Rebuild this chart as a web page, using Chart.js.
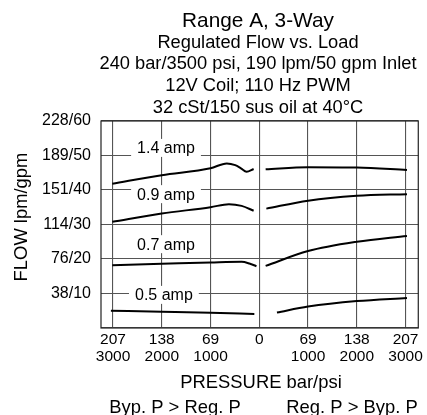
<!DOCTYPE html>
<html>
<head>
<meta charset="utf-8">
<script src="https://cdn.jsdelivr.net/npm/chart.js@4.4.0/dist/chart.umd.min.js"></script>
<style>
  html, body { margin: 0; padding: 0; background: #fff; }
  #wrap { width: 427px; height: 415px; }
</style>
</head>
<body>
<div id="wrap"><canvas id="flowChart" width="427" height="415"></canvas></div>
<script>
// axis labels
const yTickGpm = [10, 20, 30, 40, 50, 60];
const yTickLpm = [38, 76, 114, 151, 189, 228];
const xTickVal = [-207, -138, -69, 0, 69, 138, 207];
const xTickBar = ["207", "138", "69", "0", "69", "138", "207"];
const xTickPsi = ["3000", "2000", "1000", "", "1000", "2000", "3000"];
const ampLabels = ["1.4 amp", "0.9 amp", "0.7 amp", "0.5 amp"];

// pressure in bar (negative = Byp. P > Reg. P side), flow in gpm
const p14Left = [-208, -138, -69, -46, -34, -26, -18, -8];
const q14Left = [41.8, 44.3, 46.3, 47.7, 47.2, 46.3, 45.3, 46.1];
const p14Right = [9, 69, 138, 209];
const q14Right = [46.0, 46.6, 46.5, 45.8];

const p09Left = [-208, -138, -69, -43, -25, -8];
const q09Left = [30.8, 33.2, 35.0, 35.9, 35.4, 34.0];
const p09Right = [10, 69, 138, 209];
const q09Right = [34.6, 36.9, 38.3, 38.8];

const p07Left = [-208, -138, -69, -25, -14, -4];
const q07Left = [18.2, 18.6, 19.0, 19.2, 18.7, 17.9];
const p07Right = [9, 69, 138, 209];
const q07Right = [18.0, 22.3, 25.0, 26.7];

const p05Left = [-210, -138, -69, -7];
const q05Left = [5.0, 4.7, 4.4, 4.05];
const p05Right = [25, 69, 138, 209];
const q05Right = [4.5, 6.2, 7.8, 8.7];

const FONT = "'Liberation Sans', Arial, Helvetica, sans-serif";
Chart.defaults.font.family = FONT;
Chart.defaults.color = "#000";

function pts(xs, ys) {
  return xs.map((x, i) => ({ x: x, y: ys[i] }));
}

function curve(xs, ys) {
  return {
    data: pts(xs, ys),
    borderColor: "#000",
    borderWidth: 2,
    pointRadius: 0,
    fill: false,
    cubicInterpolationMode: "monotone"
  };
}

// text, frame and the amp label boxes
const decor = {
  id: "decor",
  beforeDatasetsDraw(chart) {
    const { ctx, chartArea: a, scales } = chart;
    const spots = [[-132, 52.2], [-132, 38.8], [-132, 24.3], [-135, 9.6]];
    ctx.save();
    ctx.strokeStyle = "#222";
    ctx.lineWidth = 1.2;
    ctx.strokeRect(a.left, a.top, a.right - a.left, a.bottom - a.top);

    ctx.font = "16px " + FONT;
    ctx.textAlign = "center";
    ctx.textBaseline = "middle";
    ampLabels.forEach((t, i) => {
      const cx = scales.x.getPixelForValue(spots[i][0]);
      const cy = scales.y.getPixelForValue(spots[i][1]);
      const w = ctx.measureText(t).width + 12;
      ctx.fillStyle = "#fff";
      ctx.fillRect(cx - w / 2, cy - 9, w, 18);
      ctx.fillStyle = "#000";
      ctx.fillText(t, cx, cy + 1);
    });
    ctx.restore();
  },
  afterDraw(chart) {
    const ctx = chart.ctx;
    ctx.save();
    ctx.fillStyle = "#000";
    ctx.textAlign = "center";
    ctx.textBaseline = "alphabetic";

    ctx.font = "20.8px " + FONT;
    ctx.fillText("Range A, 3-Way", 258, 27.3);
    ctx.font = "18.3px " + FONT;
    ctx.fillText("Regulated Flow vs. Load", 258, 48.3);
    ctx.fillText("240 bar/3500 psi, 190 lpm/50 gpm Inlet", 258, 69);
    ctx.fillText("12V Coil; 110 Hz PWM", 258, 90.7);
    ctx.fillText("32 cSt/150 sus oil at 40°C", 258, 112.7);

    ctx.font = "18.4px " + FONT;
    ctx.fillText("PRESSURE bar/psi", 261, 388);
    ctx.fillText("Byp. P > Reg. P", 175, 413);
    ctx.fillText("Reg. P > Byp. P", 352, 413);

    ctx.translate(22, 217);
    ctx.rotate(-Math.PI / 2);
    ctx.textBaseline = "middle";
    ctx.fillText("FLOW lpm/gpm", 0, 0);
    ctx.restore();
  }
};

new Chart(document.getElementById("flowChart"), {
  type: "line",
  data: {
    datasets: [
      curve(p14Left, q14Left), curve(p14Right, q14Right),
      curve(p09Left, q09Left), curve(p09Right, q09Right),
      curve(p07Left, q07Left), curve(p07Right, q07Right),
      curve(p05Left, q05Left), curve(p05Right, q05Right)
    ]
  },
  options: {
    responsive: false,
    animation: false,
    layout: { padding: { left: 0, top: 121, right: 5, bottom: 0 } },
    plugins: {
      legend: { display: false },
      tooltip: { enabled: false }
    },
    scales: {
      x: {
        type: "linear",
        min: -224,
        max: 225,
        afterBuildTicks: s => { s.ticks = xTickVal.map(v => ({ value: v })); },
        afterFit: s => { s.height = 87; },
        grid: { color: "#555", lineWidth: 1.1, drawTicks: false },
        border: { display: false },
        ticks: {
          autoSkip: false,
          maxRotation: 0,
          padding: 4,
          font: { size: 15.5, lineHeight: 1.05 },
          callback: (v, i) => xTickPsi[i] ? [xTickBar[i], xTickPsi[i]] : xTickBar[i]
        }
      },
      y: {
        min: 0,
        max: 60,
        afterFit: s => { s.width = 101; },
        grid: { color: "#555", lineWidth: 1.1, drawTicks: false },
        border: { display: false },
        ticks: {
          stepSize: 10,
          padding: 10,
          font: { size: 16 },
          callback: v => {
            const i = yTickGpm.indexOf(v);
            return i < 0 ? "" : yTickLpm[i] + "/" + yTickGpm[i];
          }
        }
      }
    }
  },
  plugins: [decor]
});
</script>
</body>
</html>
